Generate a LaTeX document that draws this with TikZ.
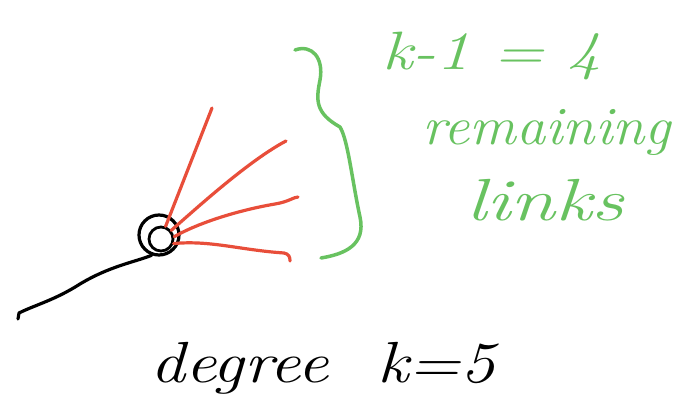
\documentclass[tikz,border=0pt]{standalone}
\usepackage{fontspec}
\setmainfont{Latin Modern Roman}
\definecolor{lnkred}{RGB}{232,78,58}
\definecolor{lblgreen}{RGB}{104,194,96}
\begin{document}
\begin{tikzpicture}[x=1pt,y=-1pt,
  stroke/.style={line width=3.2pt,line cap=round,line join=round},
  redlink/.style={stroke,draw=lnkred},
  blacklink/.style={stroke,draw=black},
  greenbrace/.style={stroke,draw=lblgreen,line width=3.5pt},
  hub/.style={circle,draw=black,line width=3.2pt,minimum size=40pt,inner sep=0pt},
  greenlabel/.style={text=lblgreen,font=\itshape\fontsize{54}{58}\selectfont,inner sep=0pt},
  blacklabel/.style={text=black,font=\itshape\fontsize{58}{62}\selectfont,inner sep=0pt}]
\useasboundingbox (0,0) rectangle (683,409);
% hub node
\node[hub] (hub) at (159,235) {};
\node[circle,draw=black,line width=2.8pt,minimum size=24pt,inner sep=0pt] (core) at (161,239) {};
% free ends
\coordinate (r1) at (212,108);
\coordinate (r2) at (286,141);
\coordinate (r3) at (298,197);
\coordinate (r4) at (290,261);
\coordinate (tail) at (18,319);
% black link
\draw[blacklink] (hub.250) .. controls (135,262) and (110,266) .. (80,284)
  .. controls (55,300) and (35,305) .. (19,313) -- (tail);
% red links
\draw[redlink] (core.70) -- (r1);
\draw[redlink] (core.40) .. controls (200,205) and (250,160) .. (r2);
\draw[redlink] (core.10) .. controls (200,222) and (240,210) .. (275,204) .. controls (288,202) and (294,197) .. (r3);
\draw[redlink] (core.-20) .. controls (210,240) and (240,250) .. (284,253) .. controls (289,254) and (290,257) .. (r4);
% brace
\coordinate (b0) at (295,50);
\coordinate (btip) at (340,127);
\coordinate (b2) at (360,217);
\coordinate (b3) at (321,258);
\draw[greenbrace] (b0) .. controls (312,44) and (324,58) .. (320,80)
  .. controls (316,100) and (315,113) .. (btip)
  .. controls (348,140) and (352,180) .. (b2)
  .. controls (366,245) and (345,254) .. (b3);
% labels
\node[greenlabel,anchor=base west] (klabel) at (382,70) {\scalebox{1.25}[1]{k-1 = 4}};
\node[greenlabel,anchor=base west] (rem) at (422,145) {\scalebox{1.08}[1]{remaining}};
\node[greenlabel,anchor=base west] (links) at (466,220) {\scalebox{1.5}[1.1]{links}};
\node[blacklabel,anchor=base west] (deg) at (150,382) {\scalebox{1.2}[1]{degree \ k=5}};
\end{tikzpicture}
\end{document}
